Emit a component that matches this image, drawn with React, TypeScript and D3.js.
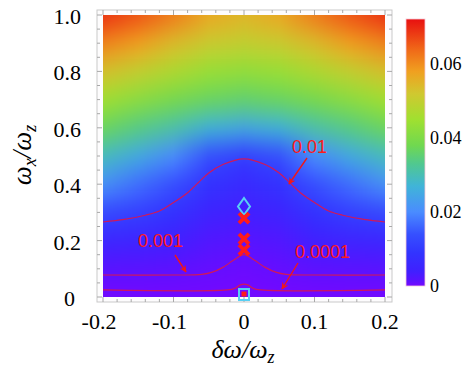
import React, { useRef, useEffect } from 'react';
import * as d3 from 'd3';

// grid columns (δω/ωz) and rows (ωx/ωz) of the density map
const xCols = [-0.2, -0.15, -0.1, -0.05, 0, 0.05, 0.1, 0.15, 0.2];
const yRows = [1.0, 0.9, 0.8, 0.7, 0.6, 0.5, 0.4, 0.3, 0.2, 0.1, 0.0];

// values, one row per ωx/ωz
const row100 = [0.069, 0.066, 0.062, 0.057, 0.055, 0.057, 0.062, 0.066, 0.069];
const row090 = [0.061, 0.058, 0.054, 0.051, 0.05, 0.051, 0.054, 0.058, 0.061];
const row080 = [0.053, 0.05, 0.047, 0.044, 0.043, 0.044, 0.047, 0.05, 0.053];
const row070 = [0.045, 0.042, 0.039, 0.037, 0.036, 0.037, 0.039, 0.042, 0.045];
const row060 = [0.037, 0.034, 0.031, 0.027, 0.025, 0.027, 0.031, 0.034, 0.037];
const row050 = [0.029, 0.025, 0.02, 0.0135, 0.0105, 0.0135, 0.02, 0.025, 0.029];
const row040 = [0.021, 0.017, 0.0135, 0.0085, 0.0065, 0.0085, 0.0135, 0.017, 0.021];
const row030 = [0.0125, 0.011, 0.0085, 0.005, 0.0038, 0.005, 0.0085, 0.011, 0.0125];
const row020 = [0.0058, 0.0052, 0.004, 0.0024, 0.0018, 0.0024, 0.004, 0.0052, 0.0058];
const row010 = [0.0016, 0.0015, 0.0013, 0.0009, 0.0005, 0.0009, 0.0013, 0.0015, 0.0016];
const row000 = [0, 0, 0, 0, 0, 0, 0, 0, 0];
const gridRows = [row100, row090, row080, row070, row060, row050, row040, row030, row020, row010, row000];

// colour scheme stops
const colorVals = [0, 0.0015, 0.004, 0.009, 0.014, 0.02, 0.027, 0.033, 0.038, 0.045, 0.052, 0.058, 0.064, 0.0722];
const colorHex = ['#7408ff', '#5a12ff', '#4020ff', '#3234ff', '#3650ff', '#4a8cff', '#40b4d8', '#50c890', '#70d850',
  '#a0e030', '#d0c830', '#f0a020', '#f06818', '#e81010'];

// contour lines
const c01X = [-0.2, -0.17, -0.14, -0.12, -0.1, -0.08, -0.065, -0.05, -0.03, 0, 0.03, 0.05, 0.065, 0.08, 0.1, 0.12, 0.14, 0.17, 0.2];
const c01Y = [0.266, 0.275, 0.29, 0.305, 0.335, 0.37, 0.405, 0.44, 0.47, 0.49, 0.47, 0.44, 0.405, 0.37, 0.335, 0.305, 0.29, 0.275, 0.266];
const c001X = [-0.2, -0.1, -0.06, -0.045, -0.03, -0.015, 0, 0.015, 0.03, 0.045, 0.06, 0.1, 0.2];
const c001Y = [0.078, 0.078, 0.08, 0.088, 0.105, 0.13, 0.15, 0.13, 0.105, 0.088, 0.08, 0.078, 0.078];
const c0001X = [-0.2, -0.02, -0.012, -0.006, 0, 0.006, 0.012, 0.02, 0.2];
const c0001Y = [0.025, 0.026, 0.032, 0.042, 0.046, 0.042, 0.032, 0.026, 0.025];

// markers on δω = 0
const diamondY = 0.321;
const crossY = [0.28, 0.206, 0.167];
const squareY = 0.007;

const xTicks = [-0.2, -0.1, 0, 0.1, 0.2];
const yTicks = [0, 0.2, 0.4, 0.6, 0.8, 1.0];
const yTickLabels = ['0', '0.2', '0.4', '0.6', '0.8', '1.0'];
const cbTicks = [0, 0.02, 0.04, 0.06];
const cbTickLabels = ['0', '0.02', '0.04', '0.06'];

const W = 463, H = 371;

const App = () => {
  const svgRef = useRef(null);

  useEffect(() => {
    const svg = d3.select(svgRef.current);
    svg.selectAll('*').remove();

    const x = d3.scaleLinear().domain([-0.2, 0.2]).range([103, 385]);
    const y = d3.scaleLinear().domain([0, 1]).range([297, 15]);
    const color = d3.scaleLinear<string>().domain(colorVals).range(colorHex).interpolate(d3.interpolateRgb);
    const frame = { l: 97, r: 392, t: 10, b: 302 };

    const defs = svg.append('defs');
    defs.append('clipPath').attr('id', 'plotClip')
      .append('rect').attr('x', 103).attr('y', 15).attr('width', 282).attr('height', 282);
    const f = defs.append('filter').attr('id', 'smooth').attr('filterUnits', 'userSpaceOnUse')
      .attr('x', 0).attr('y', -80).attr('width', W).attr('height', 480)
      .attr('color-interpolation-filters', 'sRGB');
    f.append('feGaussianBlur').attr('stdDeviation', '1 12');

    const mk = defs.append('marker').attr('id', 'arrow').attr('viewBox', '0 0 10 10')
      .attr('refX', 9).attr('refY', 5).attr('markerWidth', 7).attr('markerHeight', 7)
      .attr('orient', 'auto').attr('markerUnits', 'userSpaceOnUse');
    mk.append('path').attr('d', 'M0,0 L10,5 L0,10 L3,5 z').attr('fill', '#f01818');

    const grad = defs.append('linearGradient').attr('id', 'cbGrad')
      .attr('x1', 0).attr('y1', 1).attr('x2', 0).attr('y2', 0);
    colorVals.forEach((v, i) => {
      grad.append('stop').attr('offset', v / 0.0722).attr('stop-color', colorHex[i]);
    });

    // one horizontal gradient per grid row
    gridRows.forEach((row, j) => {
      const g = defs.append('linearGradient').attr('id', `row${j}`)
        .attr('gradientUnits', 'userSpaceOnUse')
        .attr('x1', x(-0.2)).attr('x2', x(0.2)).attr('y1', 0).attr('y2', 0);
      row.forEach((v, i) => {
        g.append('stop').attr('offset', (xCols[i] + 0.2) / 0.4).attr('stop-color', color(v));
      });
    });

    // frame background
    svg.append('rect').attr('x', frame.l).attr('y', frame.t)
      .attr('width', frame.r - frame.l).attr('height', frame.b - frame.t)
      .attr('fill', '#fdfcfd').attr('stroke', '#c9c9c9').attr('stroke-width', 1);

    // density rows, smoothed vertically
    const edgeY = (j) => {
      if (j === 0) return y(yRows[0]) - 60;
      if (j === yRows.length) return y(yRows[yRows.length - 1]) + 60;
      return (y(yRows[j - 1]) + y(yRows[j])) / 2;
    };
    const cells = svg.append('g').attr('clip-path', 'url(#plotClip)')
      .append('g').attr('filter', 'url(#smooth)');
    gridRows.forEach((row, j) => {
      cells.append('rect')
        .attr('x', x(-0.2) - 20).attr('y', edgeY(j))
        .attr('width', x(0.2) - x(-0.2) + 40)
        .attr('height', edgeY(j + 1) - edgeY(j) + 0.5)
        .attr('fill', `url(#row${j})`);
    });

    // contours
    const line = d3.line<[number, number]>().x(d => x(d[0])).y(d => y(d[1])).curve(d3.curveCatmullRom.alpha(0.5));
    [[c01X, c01Y], [c001X, c001Y], [c0001X, c0001Y]].forEach(([cx, cy]) => {
      svg.append('path')
        .attr('d', line(cx.map((v, i) => [v, cy[i]])))
        .attr('fill', 'none').attr('stroke', '#d0185a').attr('stroke-width', 1.2)
        .attr('clip-path', 'url(#plotClip)');
    });

    // ticks
    const tk = svg.append('g').attr('stroke', '#a8a8a8').attr('stroke-width', 1);
    d3.range(-0.2, 0.2001, 0.02).forEach(v => {
      const major = Math.abs(Math.round(v * 10) - v * 10) < 1e-6;
      const len = major ? 5 : 3;
      tk.append('line').attr('x1', x(v)).attr('x2', x(v)).attr('y1', frame.b).attr('y2', frame.b - len);
      tk.append('line').attr('x1', x(v)).attr('x2', x(v)).attr('y1', frame.t).attr('y2', frame.t + len);
    });
    d3.range(0, 1.0001, 0.05).forEach(v => {
      const major = Math.abs(Math.round(v * 5) - v * 5) < 1e-6;
      const len = major ? 5 : 3;
      tk.append('line').attr('y1', y(v)).attr('y2', y(v)).attr('x1', frame.l).attr('x2', frame.l + len);
      tk.append('line').attr('y1', y(v)).attr('y2', y(v)).attr('x1', frame.r).attr('x2', frame.r - len);
    });

    const serif = '"Liberation Serif", "DejaVu Serif", serif';
    const sans = '"Liberation Sans", Arial, sans-serif';

    // tick labels
    xTicks.forEach(v => {
      svg.append('text').attr('x', x(v) + (v < 0 ? -4 : 0)).attr('y', 329)
        .attr('text-anchor', 'middle').attr('font-family', serif).attr('font-size', 22)
        .text(v === 0 ? '0' : String(v));
    });
    yTicks.forEach((v, i) => {
      svg.append('text').attr('x', v === 0 ? 75 : 81).attr('y', y(v) + 9)
        .attr('text-anchor', 'end').attr('font-family', serif).attr('font-size', 22)
        .text(yTickLabels[i]);
    });

    // axis titles
    const xt = svg.append('text').attr('x', 243).attr('y', 358).attr('text-anchor', 'middle')
      .attr('font-family', serif).attr('font-style', 'italic').attr('font-size', 26);
    xt.append('tspan').text('δω/ω');
    xt.append('tspan').attr('font-size', 18).attr('dy', 5).text('z');

    const yt = svg.append('text').attr('transform', 'translate(31,155) rotate(-90)').attr('text-anchor', 'middle')
      .attr('font-family', serif).attr('font-style', 'italic').attr('font-size', 27);
    yt.append('tspan').text('ω');
    yt.append('tspan').attr('font-size', 18).attr('dy', 5).text('x');
    yt.append('tspan').attr('dy', -5).text('/ω');
    yt.append('tspan').attr('font-size', 18).attr('dy', 5).text('z');

    // colorbar
    const cb = d3.scaleLinear().domain([0, 0.0722]).range([286, 19]);
    svg.append('rect').attr('x', 406).attr('y', cb(0.0722)).attr('width', 19)
      .attr('height', cb(0) - cb(0.0722)).attr('fill', 'url(#cbGrad)')
      .attr('stroke', '#f4c8d8').attr('stroke-width', 0.8);
    cbTicks.forEach((v, i) => {
      svg.append('text').attr('x', 430).attr('y', cb(v) + 6)
        .attr('font-family', serif).attr('font-size', 18).text(cbTickLabels[i]);
    });

    // markers
    const mx = x(0);
    const dy0 = y(diamondY);
    svg.append('path')
      .attr('d', `M${mx},${dy0 - 8.5} L${mx + 6},${dy0} L${mx},${dy0 + 8.5} L${mx - 6},${dy0} Z`)
      .attr('fill', 'none').attr('stroke', '#58d0f4').attr('stroke-width', 2);
    crossY.forEach(v => {
      const cy = y(v);
      svg.append('path')
        .attr('d', `M${mx - 5},${cy - 5} L${mx + 5},${cy + 5} M${mx + 5},${cy - 5} L${mx - 5},${cy + 5}`)
        .attr('stroke', '#ff1a1a').attr('stroke-width', 4);
    });
    const sy = y(squareY);
    svg.append('rect').attr('x', mx - 5).attr('y', sy - 6).attr('width', 10).attr('height', 11)
      .attr('fill', 'none').attr('stroke', '#58d0f4').attr('stroke-width', 2);
    svg.append('rect').attr('x', mx - 2.5).attr('y', sy - 3.5).attr('width', 5).attr('height', 5)
      .attr('fill', '#ff1a1a');

    // contour annotations
    const notes = [
      { label: '0.01', tx: 292, ty: 153, ax1: 307, ay1: 158, ax2: 289, ay2: 184 },
      { label: '0.001', tx: 138, ty: 247, ax1: 175, ay1: 255, ax2: 186, ay2: 272 },
      { label: '0.0001', tx: 295, ty: 258, ax1: 298, ay1: 263, ax2: 282, ay2: 289 },
    ];
    notes.forEach(n => {
      svg.append('text').attr('x', n.tx).attr('y', n.ty).attr('font-family', sans)
        .attr('font-size', 18).attr('fill', '#ff1a1a').text(n.label);
      svg.append('line').attr('x1', n.ax1).attr('y1', n.ay1).attr('x2', n.ax2).attr('y2', n.ay2)
        .attr('stroke', '#f01818').attr('stroke-width', 1.4).attr('marker-end', 'url(#arrow)');
    });
  }, []);

  return (
    <svg ref={svgRef} width={W} height={H}
      style={{ position: 'absolute', left: 0, top: 0, background: '#fff' }} />
  );
};

export default App;
